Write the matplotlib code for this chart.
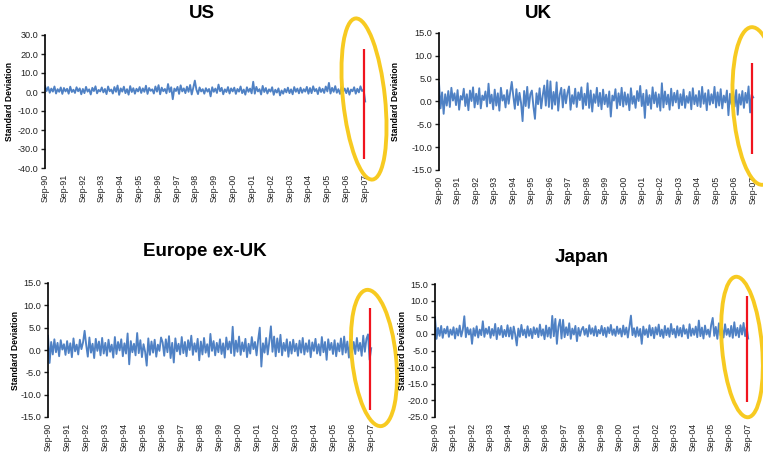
import numpy as np
import pandas as pd
import matplotlib
matplotlib.use('Agg')
import matplotlib.pyplot as plt
import matplotlib.dates as mdates
from matplotlib.patches import Ellipse

plt.rcParams['font.family'] = ['Liberation Sans', 'DejaVu Sans']
plt.rcParams['axes.unicode_minus'] = False

# monthly readings of the daily series, Sep-90 .. Aug-07
us = [3.2, 0.5, 2.6, -0.4, 1.8, 0.2, 2.9, -0.8, 1.5, 0.1, 2.4, -1.0,
      2.1, 0.3, 1.7, -0.9, 2.8, 0.0, 1.2, -0.5, 2.5, 0.4, 1.9, -1.2,
      1.6, -0.6, 2.7, 0.2, 1.4, -1.3, 2.2, 0.5, 3.0, -0.7, 1.1, 0.3,
      2.4, -0.2, 1.6, -1.1, 2.9, 0.4, 1.3, -0.8, 2.6, 0.1, 3.4, -1.5,
      1.9, 0.2, 2.8, -0.6, 1.5, -1.4, 3.1, 0.0, 2.0, -0.9, 1.7, 0.3,
      2.6, -0.5, 1.9, 0.1, 3.3, -1.0, 2.1, 0.6, 1.4, -0.8, 2.9, 0.2,
      3.6, -1.2, 2.3, 0.4, 1.6, -0.7, 4.2, 0.0, 2.5, -3.8, 1.8, 0.5,
      2.7, -1.0, 3.5, 0.3, 1.9, -0.6, 2.8, 0.1, 3.7, -1.3, 2.2, 6.0,
      1.2, -1.1, 2.4, 0.3, 1.5, -0.9, 2.0, 0.2, 1.6, -2.3, 2.5, 0.1,
      1.8, -0.5, 3.9, 0.4, 2.2, -1.2, 1.4, 0.0, 2.6, -0.8, 1.9, 0.3,
      2.3, -1.0, 1.6, 0.2, 2.9, -0.6, 1.3, -1.4, 2.5, 0.1, 1.8, -0.7,
      5.4, -0.9, 2.7, 0.3, 1.5, -1.3, 3.2, 0.0, 2.1, -0.8, 1.4, 0.2,
      2.5, -1.5, 1.2, -0.3, 1.9, -1.8, 0.8, -0.9, 1.6, -0.2, 2.3, -0.6,
      1.4, -1.2, 2.6, 0.1, 1.8, -0.7, 2.3, -0.4, 1.5, 0.2, 2.7, -0.9,
      2.1, -0.6, 3.0, 0.4, 1.6, -1.1, 2.4, 0.0, 1.7, -0.5, 2.9, 0.3,
      4.8, -0.8, 2.2, 0.1, 3.1, -0.4, 1.5, -1.0, 2.6, 0.2, 1.8, -0.6,
      2.0, -1.4, 1.3, 0.4, 2.5, -0.9, 1.7, -0.2, 3.0, 0.5, 1.2, -5.0]

uk = [4.1, -1.5, 2.0, -2.7, 1.6, -0.9, 2.3, -1.2, 3.0, 0.2, 1.8, -0.8,
      2.5, -1.8, 1.2, 0.4, 2.8, -1.0, 1.6, -1.9, 2.4, 0.1, 3.1, -1.3,
      1.7, -0.6, 2.9, -1.5, 1.3, 0.3, 2.2, -1.1, 3.9, -0.4, 1.5, -1.7,
      2.6, -0.9, 1.8, -2.0, 3.0, 0.2, 1.4, -1.3, 2.5, -0.5, 2.0, 4.3,
      1.2, -1.6, 2.7, -0.8, 1.9, -0.3, -4.3, 2.3, -1.0, 3.2, -1.4, 1.6,
      2.4, -1.1, -3.8, 1.8, -0.6, 2.9, -1.5, 1.3, 3.5, -0.9, 4.6, -1.2,
      4.4, -1.6, 2.1, -0.7, 4.2, -2.0, 1.5, 3.0, -1.3, 2.6, -0.4, 1.9,
      3.3, -1.8, 1.4, -0.5, 2.8, -1.2, 2.0, 0.3, 3.1, -1.6, 1.7, -0.8,
      4.0, -1.4, 2.4, -2.2, 1.6, -0.3, 3.0, -1.0, 1.9, -1.7, 2.6, -0.6,
      1.5, -1.2, 2.2, -3.3, 1.3, 0.2, 2.7, -1.5, 1.8, -0.8, 3.0, -1.1,
      2.0, -0.7, 1.6, -1.9, 2.9, -0.5, 1.2, -1.4, 2.3, 0.1, 3.4, -1.0,
      1.7, -3.6, 2.5, -0.8, 1.4, -1.6, 3.1, -0.4, 2.0, -1.2, 1.6, -2.0,
      4.0, -1.3, 2.2, -0.6, 1.5, -1.8, 2.8, -0.9, 1.9, -0.2, 2.4, -1.5,
      1.6, -0.8, 2.6, -1.4, 1.2, -0.3, 2.1, -1.7, 2.9, -0.6, 1.4, -1.0,
      2.3, -1.2, 3.2, -0.5, 1.8, -1.9, 2.5, -0.7, 1.6, -0.4, 3.2, -1.3,
      2.0, -0.9, 2.7, -1.5, 1.3, -0.2, 2.4, -3.0, 1.7, -0.6, 2.2, -1.1,
      2.5, -2.9, 1.6, -0.7, 2.3, -1.4, 1.9, -0.3, 3.3, -2.4, 1.5, 0.9]

europe = [3.2, -2.9, 1.8, -1.0, 2.4, -0.5, 1.6, -1.4, 2.2, 0.1, 1.3, -1.1,
          2.0, -0.7, 1.5, -1.6, 2.6, -0.3, 1.2, -1.0, 2.3, 0.2, 1.7, 4.3,
          1.1, -1.5, 2.8, -0.6, 1.4, -1.8, 2.5, -0.2, 1.9, -1.2, 2.7, -0.8,
          1.6, -1.3, 2.3, -0.4, 1.2, -1.7, 2.9, -0.9, 1.8, -0.1, 2.4, -1.4,
          1.5, -0.8, 3.7, -3.2, 2.0, -0.5, 1.4, -1.2, 3.8, -0.7, 2.2, -1.6,
          1.3, -0.4, -3.5, 2.6, -1.1, 1.9, -0.6, 2.3, -1.5, 1.2, -0.2, 2.8,
          1.7, -1.3, 2.4, -0.5, 3.1, -1.8, 1.6, -2.8, 2.6, -0.3, 1.4, -1.0,
          2.9, -0.7, 1.8, -1.4, 2.2, 0.0, 3.2, -1.1, 1.5, -0.4, 2.5, -2.3,
          1.9, -1.0, 2.7, -0.6, 1.3, -1.5, 3.6, -0.2, 2.0, -1.2, 1.6, -0.5,
          2.4, -0.9, 1.5, -1.7, 2.8, 0.1, 1.9, -0.7, 5.2, -1.3, 2.1, -0.4,
          3.0, -1.1, 1.7, -0.3, 2.5, -1.6, 1.4, -0.8, 2.9, 0.2, 1.8, -1.2,
          2.3, 5.0, -3.7, 1.5, -0.6, 2.7, -1.0, 1.9, 5.3, -0.4, 3.0, -1.4,
          2.6, -0.5, 3.4, -1.2, 1.6, -0.2, 2.4, -1.5, 1.8, -0.8, 2.3, -0.3,
          1.4, -1.3, 2.1, -0.6, 2.7, -1.0, 1.5, -0.4, 2.2, -1.6, 1.7, -0.2,
          2.5, -0.8, 1.3, -1.2, 2.9, -0.5, 1.8, -2.2, 2.4, 0.0, 1.6, -0.9,
          2.2, -1.4, 1.5, -0.3, 2.6, -1.0, 3.0, -0.6, 1.9, -1.7, 2.3, -0.5,
          1.8, -0.9, 2.7, -0.2, 1.6, -1.3, 3.2, -0.4, 2.5, 3.5, -2.2, 0.4]

japan = [5.0, -1.5, 1.8, -0.6, 2.4, -1.2, 1.5, 0.1, 2.2, -0.9, 1.3, -0.3,
         2.0, -1.4, 1.6, -0.5, 2.5, -0.8, 1.2, 5.3, -1.0, 1.9, -0.2, 1.4,
         -3.0, 1.7, -0.6, 2.3, -1.1, 1.3, -0.4, 3.8, -0.9, 1.6, 0.0, 2.1,
         -1.2, 1.5, -0.5, 3.0, -1.6, 1.8, -0.3, 2.4, -1.0, 1.2, -0.7, 2.6,
         -0.8, 1.9, -1.5, 2.2, -0.2, -3.5, 1.6, -0.9, 2.7, -0.4, 1.3, -1.1,
         2.3, -0.6, 1.5, -1.3, 2.0, -0.1, 1.7, -1.0, 2.8, -0.5, 1.4, -1.6,
         2.5, -0.8, 1.9, -1.2, 5.4, -0.7, 4.5, -3.0, 2.2, 4.3, -1.4, 4.2,
         -1.0, 2.0, -0.4, 3.2, -1.5, 1.6, -0.2, 2.4, -2.2, 1.8, -0.6, 1.3,
         2.1, -0.3, 1.5, -0.8, 2.6, 0.0, 1.7, -0.5, 2.3, -0.7, 1.2, 0.1,
         2.4, -0.4, 1.8, -0.9, 2.0, 0.2, 2.7, -0.3, 1.4, -0.6, 2.2, 0.0,
         1.6, -0.8, 2.5, -0.2, 1.9, -1.1, 2.3, 5.5, -0.4, 1.7, -0.9, 2.0,
         -0.6, 1.5, -3.0, 2.2, -0.3, 1.4, -1.0, 2.6, -0.5, 1.8, -1.3, 2.0,
         -0.2, 2.8, -0.7, 1.3, -1.2, 2.4, -0.4, 1.7, -0.9, 3.0, -0.1, 1.5,
         -1.1, 2.3, -0.5, 1.8, -0.8, 2.6, 0.0, 1.4, -1.3, 2.9, -0.6, 1.6,
         -0.3, 2.2, -1.0, 4.0, -0.7, 1.9, -1.4, 2.5, -0.2, 1.3, -0.9, 2.7,
         4.8, -0.6, 2.1, -1.5, 3.2, -0.4, 1.7, -1.1, 2.9, -0.3, 1.5, -0.8,
         2.4, -1.2, 3.5, -0.5, 1.8, -1.0, 2.6, -0.2, 3.3, -0.7, 2.0, -1.4]

titles = ['US', 'UK', 'Europe ex-UK', 'Japan']
# August 2007 move (red bar): low, high
red_lo = [-35.0, -11.5, -13.4, -20.4]
red_hi = [22.5, 8.4, 9.4, 11.4]
ylims = [(-40, 30), (-15, 15), (-15, 15), (-25, 15)]
ysteps = [10, 5, 5, 5]

W, H = 763, 453
fig = plt.figure(figsize=(W / 100, H / 100), dpi=100)

# pixel layout: left, top, bottom, x of Sep-07 tick, title x, title y, ylabel x
layout = [(45, 35, 168, 365, 202, 14, 10),
          (439, 33, 170, 753, 538, 13, 396),
          (48, 283, 417, 371, 205, 251, 16),
          (435, 284, 417, 748, 582, 258, 403)]

x0 = mdates.date2num(pd.Timestamp('1990-09-01'))
x07 = mdates.date2num(pd.Timestamp('2007-09-01'))
x1 = mdates.date2num(pd.Timestamp('2007-10-10'))
blue = '#4F81C4'

for i, data in enumerate([us, uk, europe, japan]):
    left, top, bottom, p07, tx, ty, lx = layout[i]
    width = (p07 - left) * (x1 - x0) / (x07 - x0)
    ax = fig.add_axes([left / W, 1 - bottom / H, width / W, (bottom - top) / H])
    dates = pd.date_range('1990-09-01', '2007-09-05', periods=len(data))
    ax.plot(dates, data, color=blue, lw=1.35)
    ax.vlines(pd.Timestamp('2007-08-16'), red_lo[i], red_hi[i], color='#F0141E', lw=1.6, zorder=3)
    ax.set_xlim(x0, x1)
    lo, hi = ylims[i]
    ax.set_ylim(lo, hi)
    ax.set_yticks(np.arange(lo, hi + 0.1, ysteps[i]))
    ax.yaxis.set_major_formatter(matplotlib.ticker.FormatStrFormatter('%.1f'))
    ax.set_xticks(pd.date_range('1990-09-01', '2007-09-01', freq='12MS'))
    ax.xaxis.set_major_formatter(mdates.DateFormatter('%b-%y'))
    for s in ['top', 'right', 'bottom']:
        ax.spines[s].set_visible(False)
    ax.spines['left'].set_linewidth(1.2)
    ax.tick_params(axis='y', length=3, width=1, labelsize=6.6, pad=2, colors='#222222')
    ax.tick_params(axis='x', length=0, labelsize=6.3, pad=4, labelrotation=90, colors='#222222')
    fig.text(tx / W, 1 - ty / H, titles[i], ha='center', va='center',
             fontsize=13.5, fontweight='bold')
    fig.text(lx / W, 1 - (top + bottom) / 2 / H, 'Standard Deviation', rotation=90,
             ha='center', va='center', fontsize=6.2, fontweight='bold')

# hand-drawn yellow circles over the final weeks
ov = fig.add_axes([0, 0, 1, 1])
ov.set_xlim(0, W)
ov.set_ylim(H, 0)
ov.axis('off')
circles = [(364, 99, 42, 162, -6), (757, 106, 48, 158, -4),
           (374, 358, 44, 137, -6), (742, 347, 40, 141, -5)]
for cx, cy, w, h, ang in circles:
    ov.add_patch(Ellipse((cx, cy), w, h, angle=ang, fill=False,
                         edgecolor='#F7C815', lw=2.8, alpha=0.95))

fig.savefig('out.png', dpi=100)
